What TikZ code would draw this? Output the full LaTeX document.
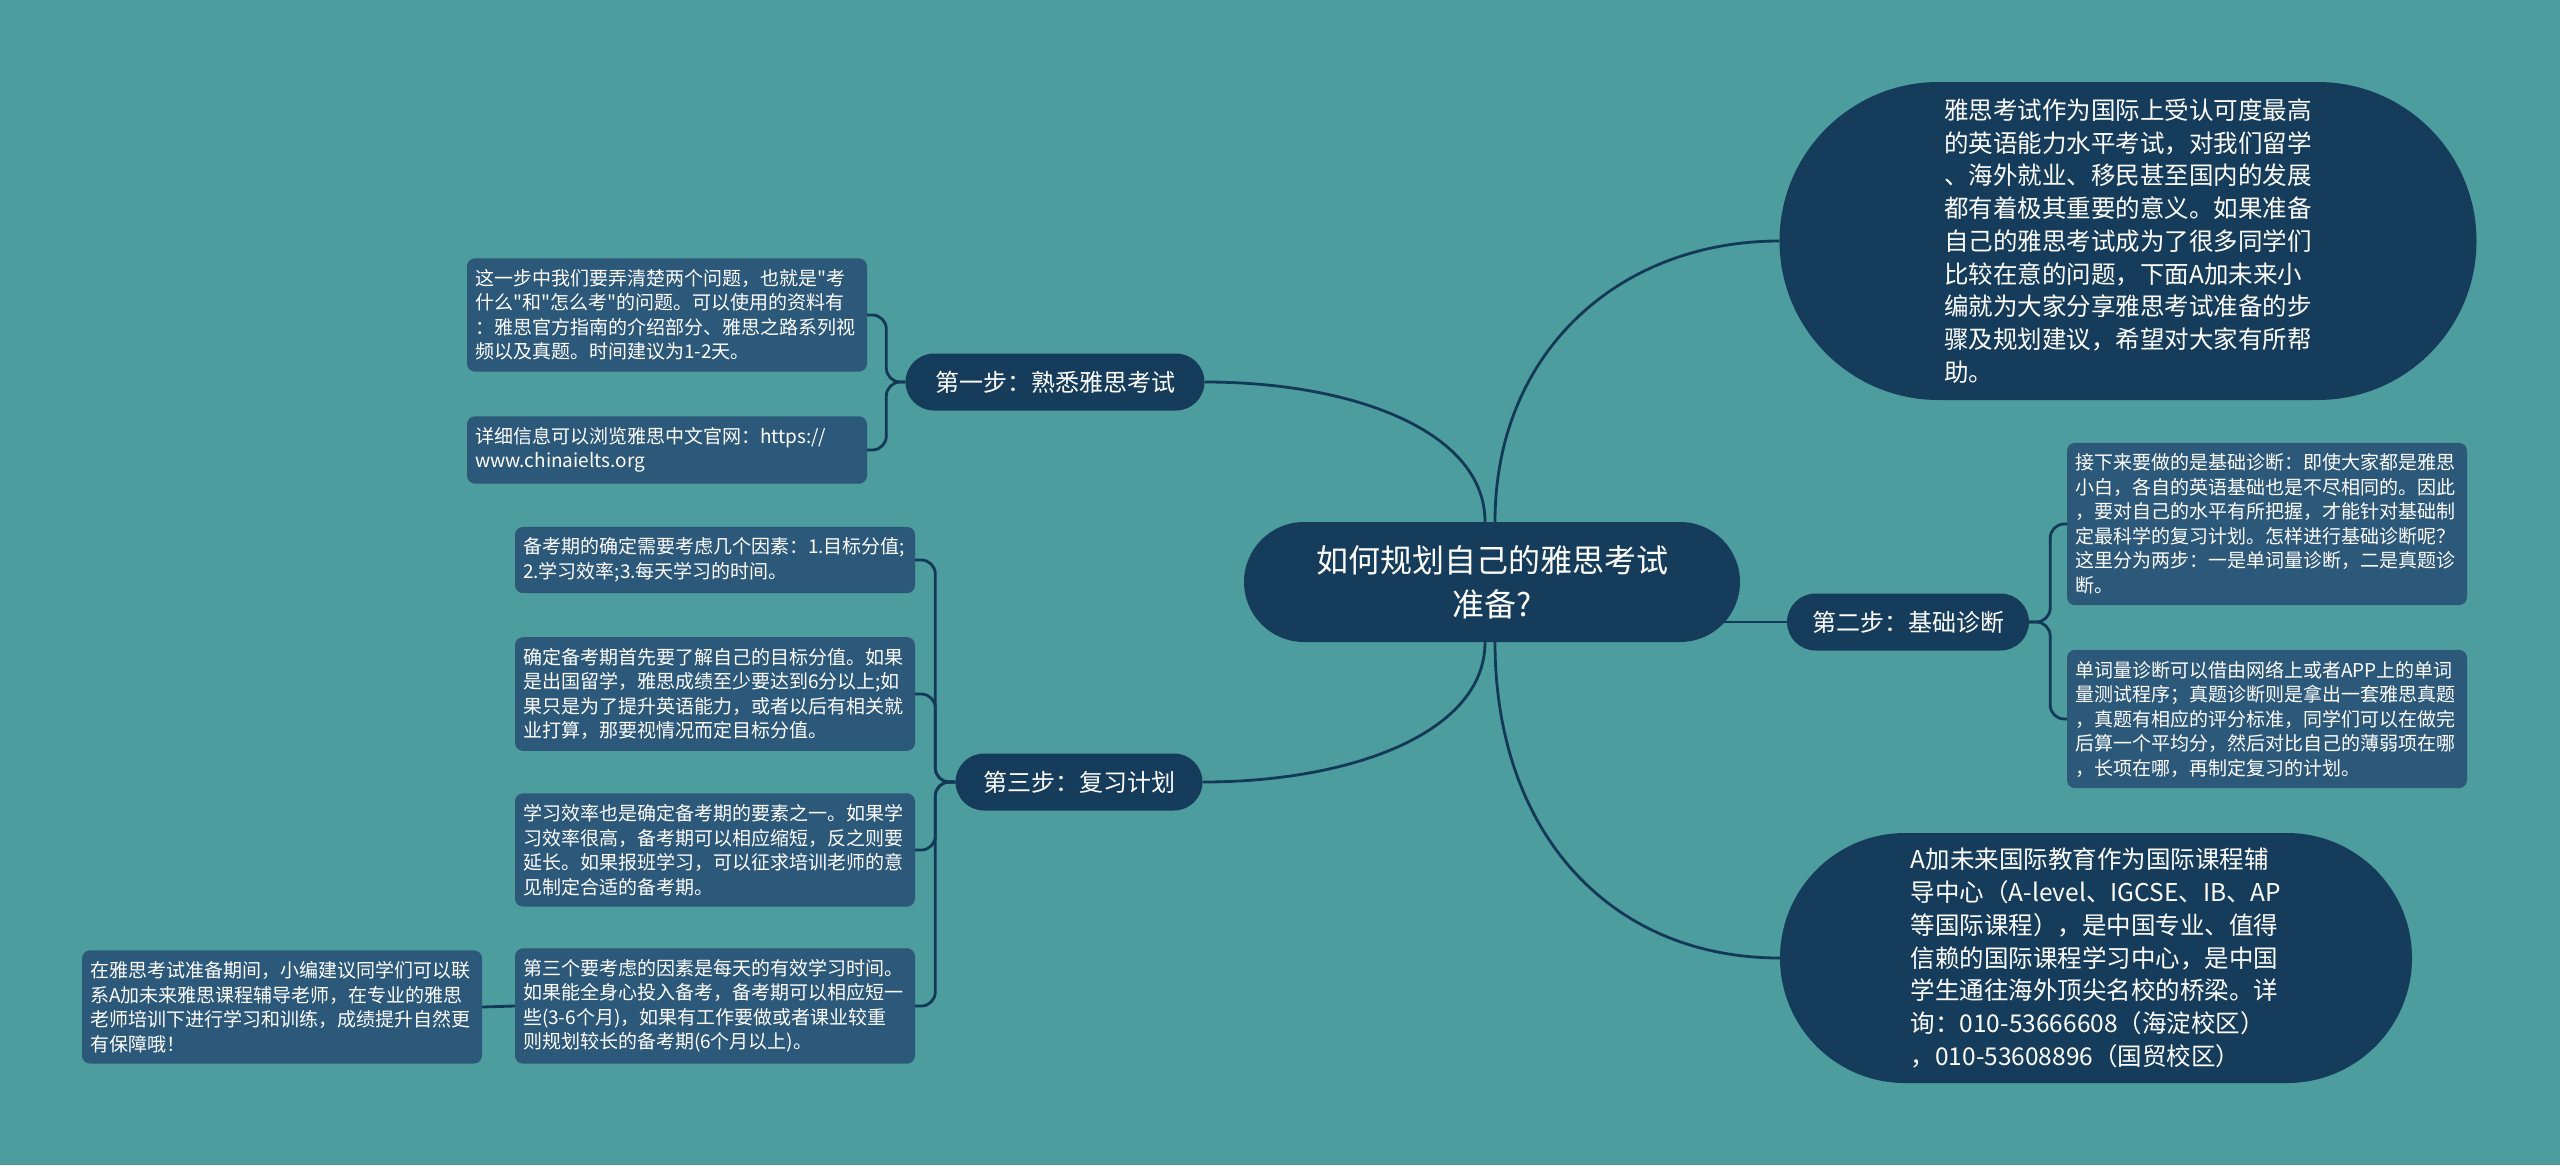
\documentclass[tikz,border=0pt]{standalone}
\usepackage{fontspec}
\newfontfamily\cjk{Noto Sans CJK SC}
\usepackage{tikz}
\usetikzlibrary{shapes.misc}
\usetikzlibrary{backgrounds}

\definecolor{mapbg}{HTML}{4E9D9E}
\definecolor{mapnavy}{HTML}{163C5C}
\definecolor{mapleaf}{HTML}{2C587A}
\definecolor{mapline}{HTML}{123957}

\tikzset{
	topic/.style={rounded rectangle, fill=mapnavy, text=white, inner xsep=0pt, inner ysep=0pt, align=center,
		font=\cjk\fontsize{32}{44}\selectfont, minimum width=496pt, minimum height=120pt},
	stepbox/.style={rounded rectangle, fill=mapnavy, text=white, inner xsep=1pt, inner ysep=0pt,
		font=\cjk\fontsize{24}{30}\selectfont, minimum height=57pt},
	bigbox/.style={rounded rectangle, fill=mapnavy, text=white, inner xsep=0pt, inner ysep=0pt, align=left,
		font=\cjk\fontsize{24.5}{32.7}\selectfont},
	leafbox/.style={rectangle, rounded corners=8pt, fill=mapleaf, text=white, text width=384pt,
		inner xsep=8pt, inner ysep=11pt, align=left, font=\cjk\fontsize{19}{24.5}\selectfont},
	branch/.style={draw=mapline, line width=2.8pt},
	fork/.style={branch, rounded corners=14pt}
}

\begin{document}
\begin{tikzpicture}[x=1pt,y=-1pt]
	\useasboundingbox (0,0) rectangle (2560,1165);
	\begin{pgfonlayer}{background}
		\fill[mapbg] (0,0) rectangle (2560,1165);
	\end{pgfonlayer}

	\node[topic] (root) at (1492,582) {如何规划自己的雅思考试\\准备?};

	\node[bigbox, minimum width=697pt, minimum height=318pt] (intro) at (2128,241) {雅思考试作为国际上受认可度最高\\的英语能力水平考试，对我们留学\\、海外就业、移民甚至国内的发展\\都有着极其重要的意义。如果准备\\自己的雅思考试成为了很多同学们\\比较在意的问题，下面A加未来小\\编就为大家分享雅思考试准备的步\\骤及规划建议，希望对大家有所帮\\助。};
	\node[bigbox, minimum width=632pt, minimum height=250pt] (promo) at (2096,958) {A加未来国际教育作为国际课程辅\\导中心（A-level、IGCSE、IB、AP\\等国际课程），是中国专业、值得\\信赖的国际课程学习中心，是中国\\学生通往海外顶尖名校的桥梁。详\\询：010-53666608（海淀校区）\\，010-53608896（国贸校区）};

	\node[stepbox, minimum width=301pt] (step1) at (1055,382) {第一步：熟悉雅思考试};
	\node[stepbox, minimum width=244pt] (step2) at (1908,622) {第二步：基础诊断};
	\node[stepbox, minimum width=249pt] (step3) at (1079,782) {第三步：复习计划};

	\node[leafbox] (s1a) at (667,315) {这一步中我们要弄清楚两个问题，也就是"考\\什么"和"怎么考"的问题。可以使用的资料有\\：雅思官方指南的介绍部分、雅思之路系列视\\频以及真题。时间建议为1-2天。};
	\node[leafbox] (s1b) at (667,450) {详细信息可以浏览雅思中文官网：https://\\www.chinaielts.org};

	\node[leafbox] (s2a) at (2267,524) {接下来要做的是基础诊断：即使大家都是雅思\\小白，各自的英语基础也是不尽相同的。因此\\，要对自己的水平有所把握，才能针对基础制\\定最科学的复习计划。怎样进行基础诊断呢？\\这里分为两步：一是单词量诊断，二是真题诊\\断。};
	\node[leafbox] (s2b) at (2267,719) {单词量诊断可以借由网络上或者APP上的单词\\量测试程序；真题诊断则是拿出一套雅思真题\\，真题有相应的评分标准，同学们可以在做完\\后算一个平均分，然后对比自己的薄弱项在哪\\，长项在哪，再制定复习的计划。};

	\node[leafbox] (s3a) at (715,560) {备考期的确定需要考虑几个因素：1.目标分值;\\2.学习效率;3.每天学习的时间。};
	\node[leafbox] (s3b) at (715,694) {确定备考期首先要了解自己的目标分值。如果\\是出国留学，雅思成绩至少要达到6分以上;如\\果只是为了提升英语能力，或者以后有相关就\\业打算，那要视情况而定目标分值。};
	\node[leafbox] (s3c) at (715,850) {学习效率也是确定备考期的要素之一。如果学\\习效率很高，备考期可以相应缩短，反之则要\\延长。如果报班学习，可以征求培训老师的意\\见制定合适的备考期。};
	\node[leafbox] (s3d) at (715,1006) {第三个要考虑的因素是每天的有效学习时间。\\如果能全身心投入备考，备考期可以相应短一\\些(3-6个月)，如果有工作要做或者课业较重\\则规划较长的备考期(6个月以上)。};
	\node[leafbox] (tip) at (282,1007) {在雅思考试准备期间，小编建议同学们可以联\\系A加未来雅思课程辅导老师，在专业的雅思\\老师培训下进行学习和训练，成绩提升自然更\\有保障哦！};

	\begin{pgfonlayer}{background}
		\draw[branch] ([xshift=3pt]root.north) .. controls +(0,-170) and +(-160,0) .. (intro.west);
		\draw[branch] ([xshift=-7pt]root.north) .. controls +(0,-90) and +(150,0) .. (step1.east);
		\draw[branch] ([xshift=-7pt]root.south) .. controls +(0,90) and +(150,0) .. (step3.east);
		\draw[branch] ([xshift=3pt]root.south) .. controls +(0,190) and +(-170,0) .. (promo.west);
		\draw[branch] (step2.west) -- (root.center |- step2.west);
		\foreach \leaf in {s1a,s1b}
			\draw[fork] (step1.west) -- ++(-19,0) |- (\leaf.east);
		\foreach \leaf in {s2a,s2b}
			\draw[fork] (step2.east) -- ++(21,0) |- (\leaf.west);
		\foreach \leaf in {s3a,s3b,s3c,s3d}
			\draw[fork] (step3.west) -- ++(-20,0) |- (\leaf.east);
		\draw[branch] (s3d.west) -- (tip.east);
	\end{pgfonlayer}
\end{tikzpicture}
\end{document}
